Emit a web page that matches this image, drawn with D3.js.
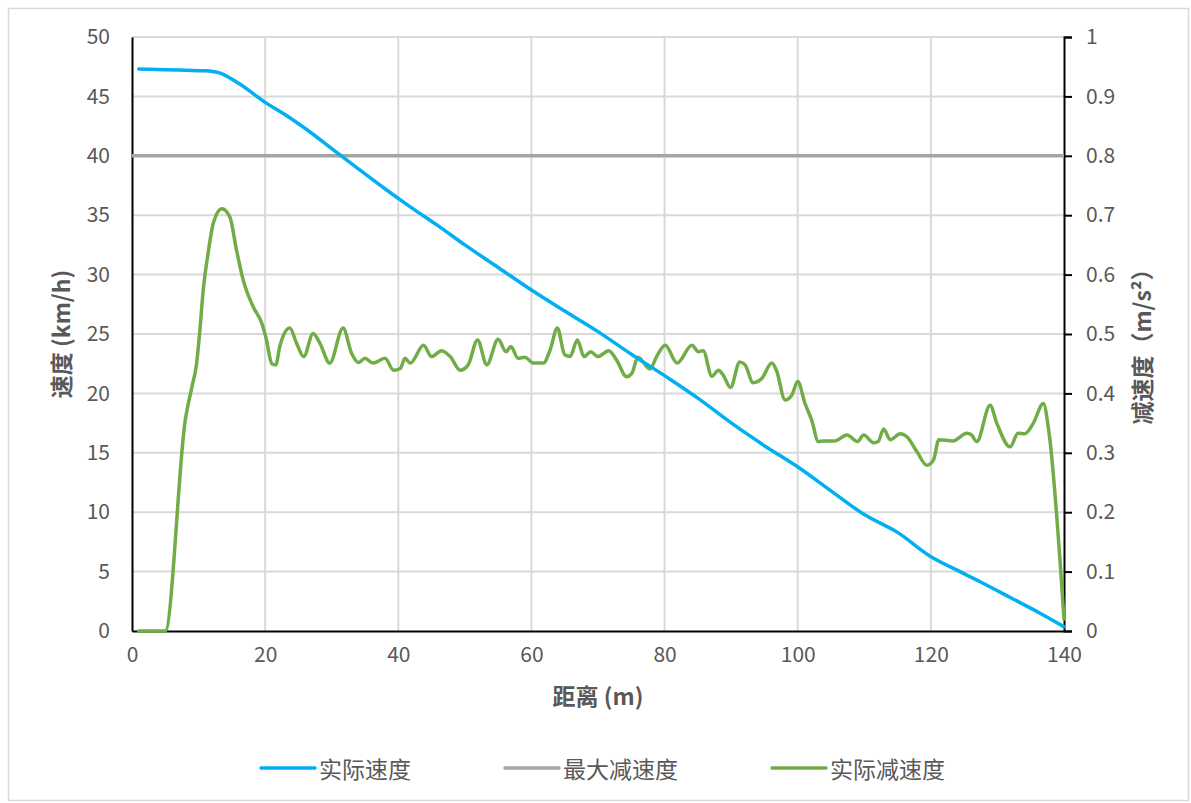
<!DOCTYPE html>
<html>
<head>
<meta charset="utf-8">
<script src="https://cdn.jsdelivr.net/npm/d3@7"></script>
<style>
  html, body { margin: 0; padding: 0; background: #fff; }
  svg { display: block; font-family: "Noto Sans CJK SC", "Noto Sans", sans-serif; }
</style>
</head>
<body>
<svg id="chart" width="1191" height="803"></svg>
<script>
// ---------- data ----------
const speedDist = [1,5,8,11,13,16,20,23.7,27,30,34,38.3,41.8,46,50,55,60,64.8,70,75,80.8,85,89.8,95,100.3,105,110,115,119.9,124,127.4,132,136.4,140];
const speedVals = [47.3,47.25,47.2,47.15,47.0,46.1,44.5,43.2,41.9,40.6,38.9,37.1,35.7,34.1,32.5,30.6,28.7,27.0,25.2,23.3,21.2,19.6,17.6,15.6,13.7,11.8,9.8,8.3,6.3,5.1,4.15,2.8,1.5,0.36];

const maxDecelDist = [0, 140];
const maxDecelVals = [0.8, 0.8];

const decelDist = [1,5,8,9,9.7,10.2,10.7,11.5,12.2,13.5,14.7,15.7,16.7,18.2,19.5,20.2,21,21.6,22.2,23.7,24.7,25.8,27.2,28.2,29.7,31.7,33,34,35,36.2,38,39.3,40.3,41,41.8,43.8,45,46.5,47.8,49.3,50.5,51.9,53.3,55,56.2,56.9,58,59,60.3,61.8,62.8,63.9,65,65.8,66.9,67.9,68.9,70,71.6,72.8,74.3,75.1,76,77.8,78.8,80.1,81.9,84.1,85.1,85.8,87.1,88.1,88.8,89.9,91.3,92.1,93.3,94.6,96.1,96.8,98.1,99.1,100,101.1,102.1,103.1,103.8,105.6,107.4,109,109.9,111.4,112.1,112.9,113.9,115.4,116.4,117.9,119.4,120.4,121.2,123.3,125.4,126.1,126.9,128.9,129.9,131.9,133.1,134.1,135.4,136.9,137.7,140];
const decelVals = [0,0,0.355,0.411,0.45,0.507,0.574,0.641,0.686,0.711,0.697,0.641,0.591,0.546,0.518,0.49,0.45,0.448,0.479,0.51,0.485,0.462,0.501,0.485,0.451,0.51,0.467,0.452,0.459,0.451,0.459,0.439,0.442,0.459,0.451,0.481,0.462,0.472,0.462,0.439,0.448,0.49,0.448,0.491,0.47,0.479,0.459,0.461,0.451,0.451,0.473,0.51,0.465,0.462,0.49,0.462,0.47,0.462,0.472,0.456,0.428,0.434,0.461,0.441,0.462,0.481,0.451,0.481,0.47,0.472,0.429,0.439,0.431,0.41,0.453,0.448,0.418,0.425,0.451,0.439,0.389,0.397,0.42,0.383,0.355,0.319,0.32,0.32,0.33,0.319,0.33,0.317,0.319,0.34,0.322,0.332,0.327,0.302,0.279,0.288,0.322,0.32,0.333,0.33,0.319,0.38,0.35,0.31,0.333,0.332,0.35,0.383,0.338,0.02];

const xTicks = [0,20,40,60,80,100,120,140];
const yLeftTicks = [0,5,10,15,20,25,30,35,40,45,50];
const yRightTicks = [0,0.1,0.2,0.3,0.4,0.5,0.6,0.7,0.8,0.9,1];

const seriesNames = ["实际速度", "最大减速度", "实际减速度"];
const seriesColors = ["#00B0F0", "#A5A5A5", "#70AD47"];

const xTitle = "距离 (m)";
const yLeftTitle = "速度 (km/h)";
const yRightTitle = "减速度（m/s²）";

// ---------- layout ----------
const svg = d3.select("#chart");
const L = 132, R = 1064, T = 37, B = 631;
const x = d3.scaleLinear().domain([0,140]).range([L,R]);
const yL = d3.scaleLinear().domain([0,50]).range([B,T]);
const yR = d3.scaleLinear().domain([0,1]).range([B,T]);
const textColor = "#595959";

// outer border
svg.append("rect").attr("x",8.5).attr("y",8.5).attr("width",1180).attr("height",792)
  .attr("fill","none").attr("stroke","#D9D9D9").attr("stroke-width",1.5);

// gridlines
const grid = svg.append("g").attr("stroke","#D9D9D9").attr("stroke-width",2);
grid.selectAll("line.h").data(yLeftTicks.filter(d=>d>0)).join("line")
  .attr("x1",L).attr("x2",R).attr("y1",d=>yL(d)).attr("y2",d=>yL(d));
grid.selectAll("line.v").data(xTicks.filter(d=>d>0 && d<140)).join("line").attr("class","v")
  .attr("y1",T).attr("y2",B).attr("x1",d=>x(d)).attr("x2",d=>x(d));

// axes
const axL = d3.axisLeft(yL).tickValues(yLeftTicks).tickSize(0).tickPadding(22).tickFormat(d3.format("d"));
const axR = d3.axisRight(yR).tickValues(yRightTicks).tickSize(8).tickPadding(14).tickFormat(d=> d===0 ? "0" : d===1 ? "1" : d3.format(".1f")(d));
const axB = d3.axisBottom(x).tickValues(xTicks).tickSize(0).tickPadding(16).tickFormat(d3.format("d"));

function styleAxis(g){
  g.select(".domain").attr("stroke","#000").attr("stroke-width",2);
  g.selectAll(".tick line").attr("stroke","#000").attr("stroke-width",2);
  g.selectAll(".tick text").attr("fill",textColor).attr("font-size",21)
    .attr("font-family",'"Noto Sans CJK SC", "Noto Sans", sans-serif');
}
svg.append("g").attr("transform",`translate(${L},0)`).call(axL).call(styleAxis);
svg.append("g").attr("transform",`translate(${R},0)`).call(axR).call(styleAxis);
svg.append("g").attr("transform",`translate(0,${B})`).call(axB).call(styleAxis);

// lines
const lineL = d3.line().x(d=>x(d[0])).y(d=>yL(d[1])).curve(d3.curveMonotoneX);
const lineR = d3.line().x(d=>x(d[0])).y(d=>yR(d[1])).curve(d3.curveMonotoneX);

svg.append("path").datum(maxDecelDist.map((d,i)=>[d,maxDecelVals[i]]))
  .attr("d",lineR).attr("fill","none").attr("stroke",seriesColors[1]).attr("stroke-width",3.5);
svg.append("path").datum(decelDist.map((d,i)=>[d,decelVals[i]]))
  .attr("d",lineR).attr("fill","none").attr("stroke",seriesColors[2]).attr("stroke-width",3.5)
  .attr("stroke-linejoin","round").attr("stroke-linecap","round");
svg.append("path").datum(speedDist.map((d,i)=>[d,speedVals[i]]))
  .attr("d",lineL).attr("fill","none").attr("stroke",seriesColors[0]).attr("stroke-width",3.5)
  .attr("stroke-linejoin","round").attr("stroke-linecap","round");

// axis titles
svg.append("text").attr("transform",`translate(60,334) rotate(-90)`)
  .attr("text-anchor","middle").attr("dominant-baseline","central")
  .attr("font-size",23).attr("font-weight","bold").attr("fill",textColor).text(yLeftTitle);
svg.append("text").attr("transform",`translate(1141,341) rotate(-90)`)
  .attr("text-anchor","middle").attr("dominant-baseline","central")
  .attr("font-size",23).attr("font-weight","bold").attr("fill",textColor).text(yRightTitle);
svg.append("text").attr("x",598).attr("y",695)
  .attr("text-anchor","middle").attr("dominant-baseline","central")
  .attr("font-size",23).attr("font-weight","bold").attr("fill",textColor).text(xTitle);

// legend
const legY = 768, lineW = 54, lineGap = 4, itemGap = 94, legCenter = 603;
const leg = svg.append("g");
const items = leg.selectAll("g").data(seriesNames).join("g");
items.append("text").attr("font-size",23).attr("fill",textColor)
  .attr("dominant-baseline","central").attr("y",legY).text(d=>d);
const widths = [];
items.each(function(){ widths.push(d3.select(this).select("text").node().getComputedTextLength()); });
const total = d3.sum(widths) + seriesNames.length*(lineW+lineGap) + (seriesNames.length-1)*itemGap;
let cx = legCenter - total/2;
items.each(function(d,i){
  const g = d3.select(this);
  g.append("line").attr("x1",cx).attr("x2",cx+lineW).attr("y1",legY).attr("y2",legY)
    .attr("stroke",seriesColors[i]).attr("stroke-width",3.5).attr("stroke-linecap","round");
  g.select("text").attr("x",cx+lineW+lineGap);
  cx += lineW + lineGap + widths[i] + itemGap;
});
</script>
</body>
</html>
